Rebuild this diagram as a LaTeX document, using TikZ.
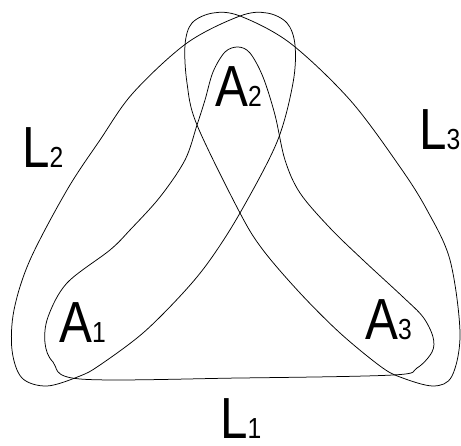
\documentclass[tikz,border=0pt]{standalone}
\usepackage{fontspec}
\newfontfamily\labelfont{Liberation Sans}[FakeStretch=0.85]
\newcommand{\vlabel}[2]{{\fontsize{58}{60}\selectfont #1}{\fontsize{29}{30}\selectfont #2}}

\begin{document}
\begin{tikzpicture}[
    x=1pt, y=-1pt,
    hyperedge/.style={line width=0.75pt},
    tag/.style={inner sep=0pt, anchor=base west, font=\labelfont}
]
\useasboundingbox (0,0) rectangle (461,446);

% Hyperedges
\draw[hyperedge] plot[smooth cycle, tension=0.55] coordinates {
    (47,386) (22,378) (12,350) (14,310) (30,260) (67,190) (100,140) (133,93)
    (187,43) (240,16) (267,13) (287,23) (295,45) (293,83) (277,142)
    (240,213) (210,260) (183,293) (143,333) (100,365) (80,376)};
\draw[hyperedge] plot[smooth cycle, tension=0.55] coordinates {
    (433,386) (452,376) (460,333) (450,260) (427,210) (400,167) (350,100)
    (290,43) (240,16) (213,13) (192,23) (185,45) (187,83) (197,125)
    (240,213) (263,250) (300,293) (340,333) (380,366) (400,377)};
\draw[hyperedge] plot[smooth cycle, tension=0.55] coordinates {
    (80,379) (240,378) (393,375) (417,368) (432,352) (433,337) (423,317)
    (403,297) (363,260) (330,228) (300,193) (285,160) (275,115) (263,77)
    (250,53) (238,47) (225,52) (213,72) (205,100) (197,125) (185,160)
    (160,197) (130,230) (110,250) (67,283) (48,317) (45,343) (53,362)};

% Vertices
\node[tag] (A1) at (59,343) {\vlabel{A}{1}};
\node[tag] (A2) at (215,107) {\vlabel{A}{2}};
\node[tag] (A3) at (365,340) {\vlabel{A}{3}};

% Edge labels
\node[tag] (L1) at (220,439) {\vlabel{L}{1}};
\node[tag] (L2) at (22,168) {\vlabel{L}{2}};
\node[tag] (L3) at (419,150) {\vlabel{L}{3}};

\end{tikzpicture}
\end{document}
